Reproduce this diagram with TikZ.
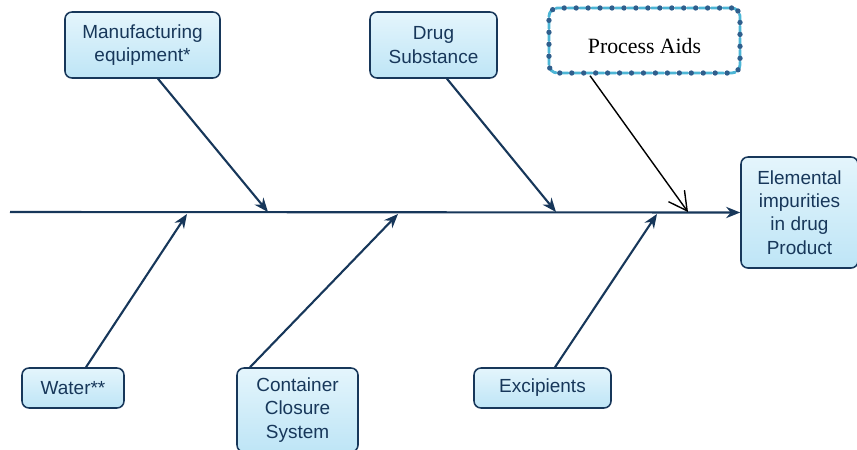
\documentclass[tikz,border=0pt]{standalone}
\usepackage{fontspec}
\setmainfont{Liberation Sans}
\newfontfamily\aidsfont{Liberation Serif}
\usetikzlibrary{arrows.meta,calc}

\definecolor{navy}{HTML}{17375A}
\definecolor{boxtop}{HTML}{E4F5FC}
\definecolor{boxbot}{HTML}{BEE5F6}
\definecolor{dashblue}{HTML}{4DB6D6}
\definecolor{dotblue}{HTML}{2F5E8C}

\tikzstyle{cause} = [draw=navy, line width=1.1pt, rounded corners=5pt, top color=boxtop, bottom color=boxbot,
  text=navy, align=center, inner sep=2pt, font=\fontsize{13.5}{16.5}\selectfont]
\tikzstyle{bone} = [navy, line width=1.5pt, -{Stealth[length=10pt,width=8pt]}]

\begin{document}
\begin{tikzpicture}[x=0.025cm, y=-0.025cm]
\useasboundingbox (0,0) rectangle (857,449);
%\draw[step=50, very thin,black!20] (0,0) grid (857,449);
\node[cause, minimum width=3.875cm, minimum height=1.65cm] (mfg) at (142.5,45) {Manufacturing\\equipment*};
\node[cause, minimum width=3.175cm, minimum height=1.65cm] (drug) at (433.5,45) {Drug\\Substance};
\node[rounded corners=6pt, minimum width=4.775cm, minimum height=1.625cm, text height=23pt, text depth=4pt,
  preaction={draw=dashblue, line width=2pt, dash pattern=on 6pt off 2.5pt},
  draw=dotblue, line width=3.8pt, line cap=round, dash pattern=on 0pt off 8.5pt,
  font=\aidsfont\fontsize{15.5}{18}\selectfont] (aids) at (644.5,40.5) {Process Aids};
\node[cause, minimum width=2.925cm, minimum height=2.775cm] (eip) at (799.5,212.5) {Elemental\\impurities\\in drug\\Product};
\node[cause, minimum width=2.55cm, minimum height=1cm] (water) at (73,388) {Water**};
\node[cause, minimum width=3.025cm, minimum height=2.1cm] (ccs) at (297.5,410) {Container\\Closure\\System};
\node[cause, minimum width=3.425cm, minimum height=1cm] (exc) at (542.5,388) {Excipients};

% spine
\coordinate (tail) at (10,212);
\draw[bone] (tail) -- (eip.west);

% upper bones
\coordinate (m1) at (268,212);
\coordinate (d1) at (556,212);
\coordinate (p1) at (688,212);
\draw[bone] ($(mfg.south)+(15.5,0)$) -- (m1);
\draw[bone] ($(drug.south)+(13.5,0)$) -- (d1);
\draw[black, line width=1pt, -{Straight Barb[length=13pt,width=14pt]}] ($(aids.south)+(-54.5,0)$) -- (p1);

% lower bones
\coordinate (w1) at (187,214);
\coordinate (c1) at (398,214);
\coordinate (e1) at (657,214);
\draw[bone] ($(water.north)+(13,0)$) -- (w1);
\draw[bone] ($(ccs.north)+(-47.5,0)$) -- (c1);
\draw[bone] ($(exc.north)+(12.5,0)$) -- (e1);
\end{tikzpicture}
\end{document}
